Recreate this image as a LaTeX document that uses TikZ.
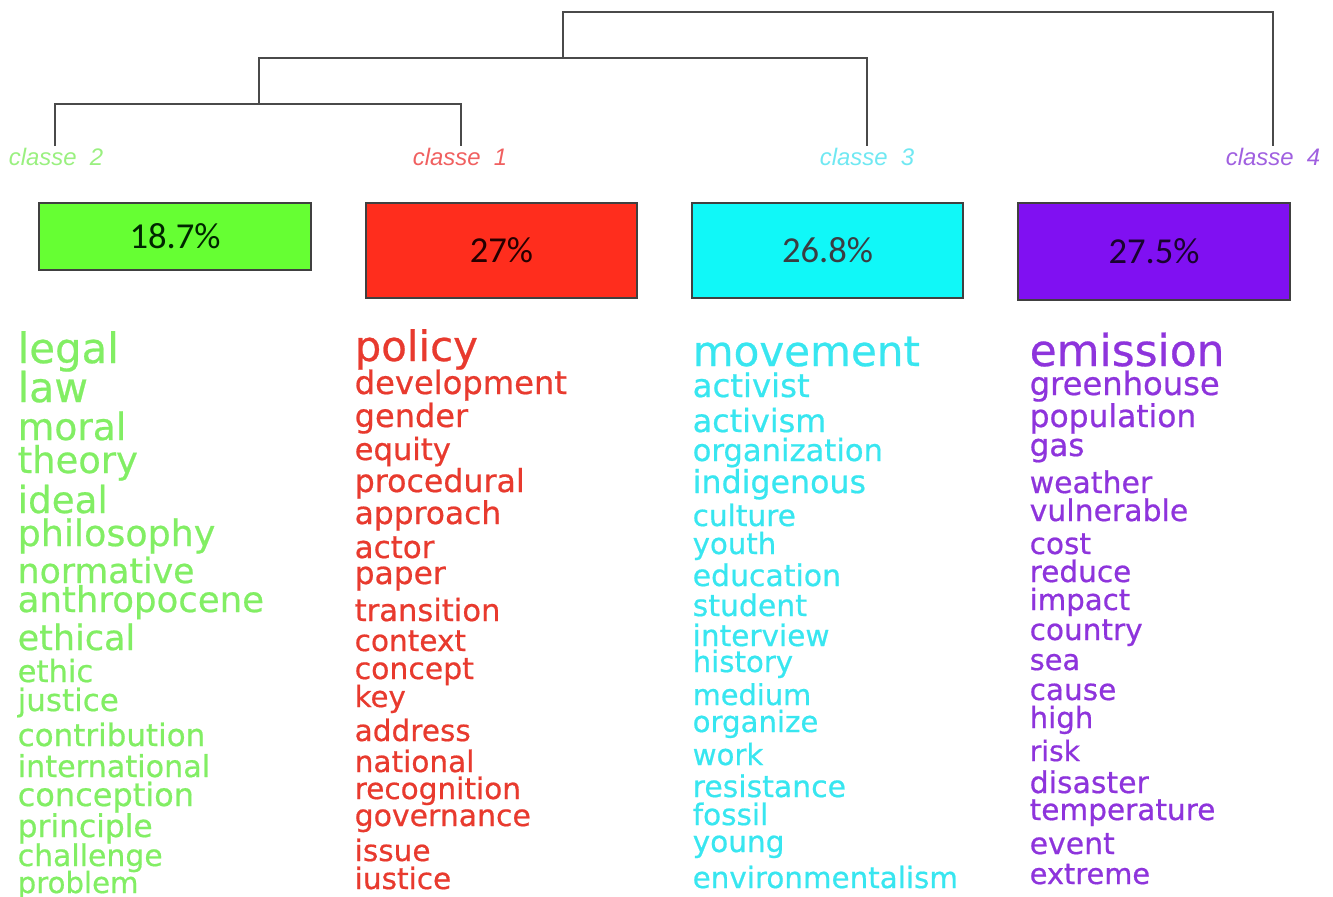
\documentclass[tikz,border=0pt]{standalone}
\usepackage{fontspec}
\setmainfont{DejaVu Sans}
\newfontfamily\wfont[FakeBold=0.6]{DejaVu Sans}
\newfontfamily\pctfont{Carlito}
\newfontfamily\clsfont{Liberation Sans}
\newcommand{\fsz}[1]{\fontsize{#1pt}{#1pt}\selectfont}
\definecolor{wgreen}{HTML}{82EE64}
\definecolor{wred}{HTML}{E83A2E}
\definecolor{wcyan}{HTML}{38E6F0}
\definecolor{wpurple}{HTML}{8E34DC}
\definecolor{cgreen}{HTML}{9AF080}
\definecolor{cred}{HTML}{F06060}
\definecolor{ccyan}{HTML}{70E8F2}
\definecolor{cpurple}{HTML}{A060E0}
\definecolor{bgreen}{HTML}{66FF33}
\definecolor{bred}{HTML}{FF2D1D}
\definecolor{bcyan}{HTML}{10F8F8}
\definecolor{bpurple}{HTML}{8010F2}
\definecolor{dendro}{HTML}{4A4A4A}
\tikzset{
  word/.style={anchor=base west, inner sep=0pt},
  wg/.style={word, text=wgreen},
  wr/.style={word, text=wred},
  wc/.style={word, text=wcyan},
  wp/.style={word, text=wpurple},
  cls/.style={inner sep=0pt, font=\clsfont\itshape\fsz{6.8}},
  pbox/.style={draw=black!75, line width=0.6pt, minimum width=2.715cm, font=\pctfont\fsz{10.4}},
  dline/.style={draw=dendro, line width=0.7pt}
}
\newcommand{\ws}[1]{\wfont\fsz{#1}}
\begin{document}
\begin{tikzpicture}[x=0.01cm, y=-0.01cm]
\useasboundingbox (0,0) rectangle (1333,897);
% dendrogram
\coordinate (t2) at (55,146);
\coordinate (t1) at (461,146);
\coordinate (t3) at (867,146);
\coordinate (t4) at (1273,146);
\coordinate (j12) at (259,104);
\coordinate (j123) at (563,58);
\coordinate (root) at (563,12);
\draw[dline] (t2) |- (j12) -| (t1);
\draw[dline] (j12) |- (j123) -| (t3);
\draw[dline] (j123) |- (root) -| (t4);
% class labels
\node[cls, text=cgreen] (c2) at (56,157) {classe\ \ 2};
\node[cls, text=cred] (c1) at (460,157) {classe\ \ 1};
\node[cls, text=ccyan] (c3) at (867,157) {classe\ \ 3};
\node[cls, text=cpurple] (c4) at (1273,157) {classe\ \ 4};
% boxes
\node[pbox, fill=bgreen, minimum height=0.67cm, text=black!85!green] (b2) at (175,236.5) {18.7\%};
\node[pbox, fill=bred, minimum height=0.95cm, text=black!85!red] (b1) at (501.5,250.5) {27\%};
\node[pbox, fill=bcyan, minimum height=0.95cm, text=black!85!cyan] (b3) at (827.5,250.5) {26.8\%};
\node[pbox, fill=bpurple, minimum height=0.97cm, text=black!80!bpurple] (b4) at (1154,251.5) {27.5\%};
% class 2 words
\node[wg, font=\ws{11.9}] (g1) at (17,363) {legal};
\node[wg, font=\ws{11.7}] (g2) at (17,402) {law};
\node[wg, font=\ws{10.7}] (g3) at (17,440) {moral};
\node[wg, font=\ws{10.5}] (g4) at (17,473) {theory};
\node[wg, font=\ws{10.6}] (g5) at (17,513) {ideal};
\node[wg, font=\ws{10.35}] (g6) at (17,546) {philosophy};
\node[wg, font=\ws{9.85}] (g7) at (17,583) {normative};
\node[wg, font=\ws{10.1}] (g8) at (17,612) {anthropocene};
\node[wg, font=\ws{9.95}] (g9) at (17,650) {ethical};
\node[wg, font=\ws{8.7}] (g10) at (17,682) {ethic};
\node[wg, font=\ws{8.8}] (g11) at (17,711) {justice};
\node[wg, font=\ws{8.8}] (g12) at (17,746) {contribution};
\node[wg, font=\ws{8.6}] (g13) at (17,777) {international};
\node[wg, font=\ws{9.1}] (g14) at (17,806) {conception};
\node[wg, font=\ws{8.9}] (g15) at (17,837) {principle};
\node[wg, font=\ws{8.5}] (g16) at (17,866) {challenge};
\node[wg, font=\ws{8.3}] (g17) at (17,893) {problem};
% class 1 words
\node[wr, font=\ws{11.9}] (r1) at (354,361) {policy};
\node[wr, font=\ws{9.15}] (r2) at (354,394) {development};
\node[wr, font=\ws{9.1}] (r3) at (354,427) {gender};
\node[wr, font=\ws{8.7}] (r4) at (354,460) {equity};
\node[wr, font=\ws{9.0}] (r5) at (354,492) {procedural};
\node[wr, font=\ws{8.9}] (r6) at (354,524) {approach};
\node[wr, font=\ws{8.8}] (r7) at (354,558) {actor};
\node[wr, font=\ws{8.9}] (r8) at (354,584) {paper};
\node[wr, font=\ws{8.7}] (r9) at (354,621) {transition};
\node[wr, font=\ws{8.4}] (r10) at (354,651) {context};
\node[wr, font=\ws{8.5}] (r11) at (354,679) {concept};
\node[wr, font=\ws{8.3}] (r12) at (354,707) {key};
\node[wr, font=\ws{8.4}] (r13) at (354,741) {address};
\node[wr, font=\ws{8.4}] (r14) at (354,772) {national};
\node[wr, font=\ws{8.4}] (r15) at (354,799) {recognition};
\node[wr, font=\ws{8.5}] (r16) at (354,826) {governance};
\node[wr, font=\ws{8.4}] (r17) at (354,861) {issue};
\node[wr, font=\ws{8.4}] (r18) at (354,889) {iustice};
% class 3 words
\node[wc, font=\ws{11.95}] (k1) at (692,366) {movement};
\node[wc, font=\ws{9.2}] (k2) at (692,397) {activist};
\node[wc, font=\ws{9.05}] (k3) at (692,432) {activism};
\node[wc, font=\ws{8.7}] (k4) at (692,461) {organization};
\node[wc, font=\ws{9.0}] (k5) at (692,493) {indigenous};
\node[wc, font=\ws{8.4}] (k6) at (692,526) {culture};
\node[wc, font=\ws{8.3}] (k7) at (692,554) {youth};
\node[wc, font=\ws{8.5}] (k8) at (692,586) {education};
\node[wc, font=\ws{8.5}] (k9) at (692,616) {student};
\node[wc, font=\ws{8.4}] (k10) at (692,646) {interview};
\node[wc, font=\ws{8.3}] (k11) at (692,672) {history};
\node[wc, font=\ws{8.2}] (k12) at (692,705) {medium};
\node[wc, font=\ws{8.3}] (k13) at (692,732) {organize};
\node[wc, font=\ws{8.3}] (k14) at (692,765) {work};
\node[wc, font=\ws{8.5}] (k15) at (692,797) {resistance};
\node[wc, font=\ws{8.4}] (k16) at (692,825) {fossil};
\node[wc, font=\ws{8.4}] (k17) at (692,852) {young};
\node[wc, font=\ws{8.35}] (k18) at (692,888) {environmentalism};
% class 4 words
\node[wp, font=\ws{12.5}] (p1) at (1029,366) {emission};
\node[wp, font=\ws{9.15}] (p2) at (1029,395) {greenhouse};
\node[wp, font=\ws{8.9}] (p3) at (1029,427) {population};
\node[wp, font=\ws{8.8}] (p4) at (1029,456) {gas};
\node[wp, font=\ws{8.5}] (p5) at (1029,493) {weather};
\node[wp, font=\ws{8.5}] (p6) at (1029,521) {vulnerable};
\node[wp, font=\ws{8.4}] (p7) at (1029,554) {cost};
\node[wp, font=\ws{8.4}] (p8) at (1029,582) {reduce};
\node[wp, font=\ws{8.3}] (p9) at (1029,610) {impact};
\node[wp, font=\ws{8.4}] (p10) at (1029,640) {country};
\node[wp, font=\ws{8.2}] (p11) at (1029,670) {sea};
\node[wp, font=\ws{8.4}] (p12) at (1029,700) {cause};
\node[wp, font=\ws{8.3}] (p13) at (1029,728) {high};
\node[wp, font=\ws{8.0}] (p14) at (1029,761) {risk};
\node[wp, font=\ws{8.5}] (p15) at (1029,793) {disaster};
\node[wp, font=\ws{8.4}] (p16) at (1029,820) {temperature};
\node[wp, font=\ws{8.5}] (p17) at (1029,854) {event};
\node[wp, font=\ws{8.2}] (p18) at (1029,884) {extreme};
\end{tikzpicture}
\end{document}
